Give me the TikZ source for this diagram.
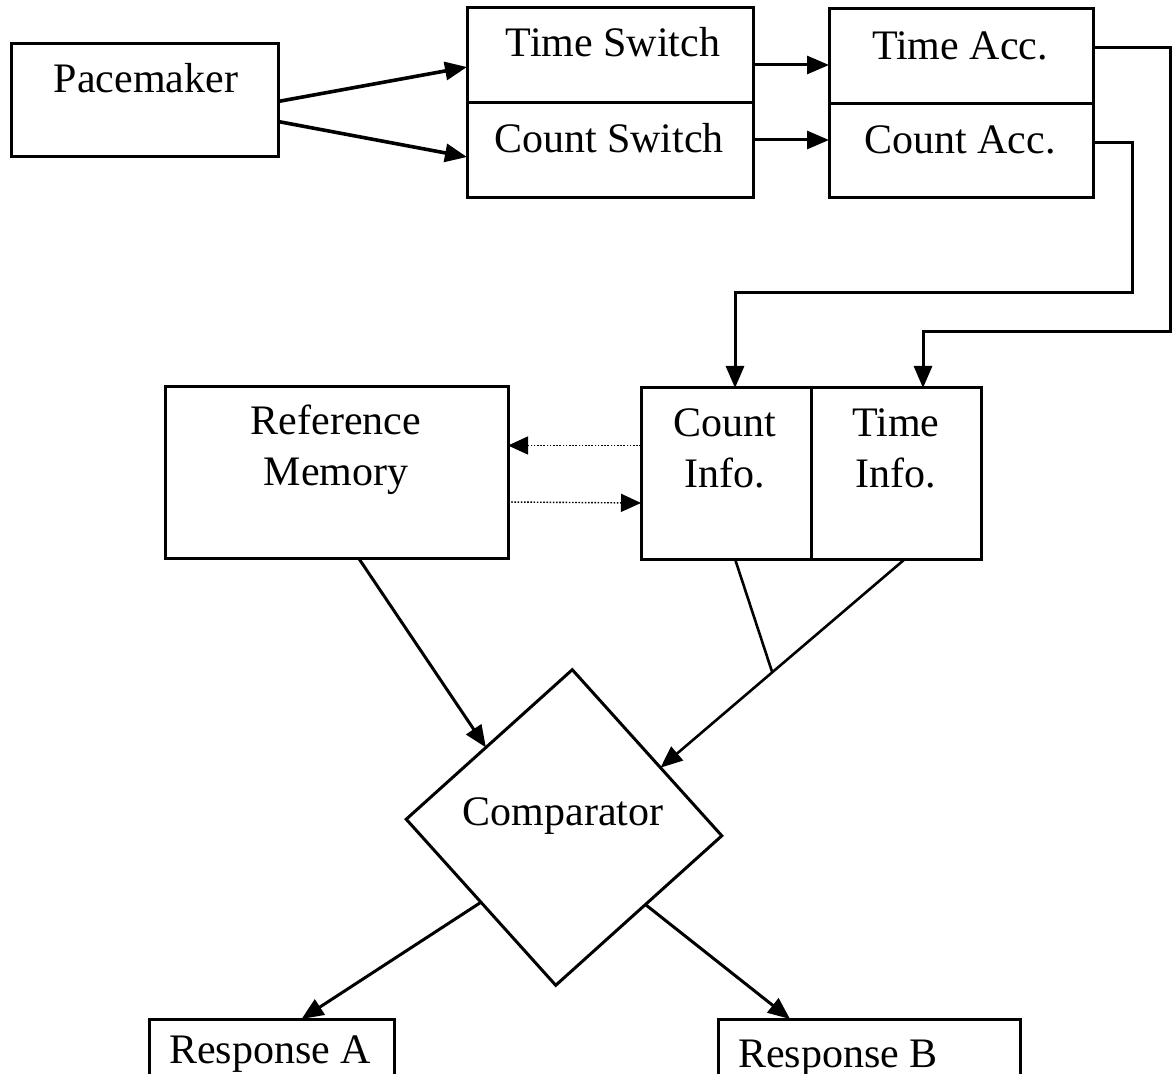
\documentclass[tikz,border=0pt]{standalone}
\usepackage{fontspec}
\setmainfont{Liberation Serif}
\usetikzlibrary{arrows.meta,calc,shapes.geometric}
% two centred lines whose baseline is the first line's
\newcommand{\twolines}[2]{\begin{tabular}[t]{@{}c@{}}#1\\#2\end{tabular}}
\tikzset{
  box/.style={draw, rectangle, line width=1.5pt, inner sep=0pt, outer sep=0pt},
  lbl/.style={font=\fontsize{21}{25}\selectfont, inner sep=0pt, anchor=base},
  arr/.style={line width=1.5pt, -{Triangle[length=11pt,width=9pt]}},
  link/.style={line width=1.3pt},
  dotarr/.style={line width=0.7pt, dash pattern=on 0.8pt off 0.8pt,
                 -{Triangle[length=10pt,width=9pt]}},
}
\begin{document}
\begin{tikzpicture}[x=0.5pt,y=-0.5pt]
\clip (0,0) rectangle (1176,1074);
\fill[white] (0,0) rectangle (1176,1074);

% boxes
\node[box, minimum width=133.5pt, minimum height=56.5pt] (pace) at (144.5,100.5) {};
\node[box, minimum width=143pt, minimum height=95pt] (sw) at (610,103) {};
\node[box, minimum width=132pt, minimum height=94.5pt] (acc) at (961,103.5) {};
\node[box, minimum width=170pt, minimum height=85.5pt] (info) at (811,473.5) {};
\node[box, minimum width=171.5pt, minimum height=85.5pt] (ref) at (336.5,472.5) {};
\node[box, minimum width=122.5pt, minimum height=45.5pt] (respA) at (271.5,1064.5) {};
\node[box, minimum width=151pt, minimum height=45.5pt] (respB) at (869,1064.5) {};
\node[draw, diamond, aspect=1, inner sep=0pt, outer sep=0pt, line width=1.5pt,
      minimum width=158pt, minimum height=158pt, rotate=-3] (cmp) at (564,827.5) {};

% dividers of the split boxes
\draw[line width=1.5pt] (sw.west) -- (sw.east);
\draw[line width=1.5pt] (acc.west) -- (acc.east);
\draw[line width=1.5pt] (info.north) -- (info.south);

% labels
\node[lbl] (tpace) at (146,93) {Pacemaker};
\node[lbl] (tsw) at (613,57) {Time Switch};
\node[lbl] (csw) at (609,153) {Count Switch};
\node[lbl] (tacc) at (960,60) {Time Acc.};
\node[lbl] (cacc) at (960,154) {Count Acc.};
\node[lbl] (cinfo) at (725,437) {\twolines{Count}{Info.}};
\node[lbl] (tinfotxt) at (896,437) {\twolines{Time}{Info.}};
\node[lbl] (reftxt) at (336,435) {\twolines{Reference}{Memory}};
\node[lbl] (cmptxt) at (563,825) {Comparator};
\node[lbl] (ratxt) at (270,1063) {Response A};
\node[lbl] (rbtxt) at (838,1067) {Response B};

% pacemaker to the switches
\draw[arr, line width=1.8pt] ($(pace.east)+(0,1)$) -- ($(sw.west)+(0,-36)$);
\draw[arr, line width=1.8pt] ($(pace.east)+(0,21)$) -- ($(sw.west)+(0,54)$);

% switches to accumulators
\draw[arr] ($(sw.east)+(0,-38)$) -- ($(acc.west)+(0,-38.5)$);
\draw[arr] ($(sw.east)+(0,37)$) -- ($(acc.west)+(0,36.5)$);

% accumulators to the info store
\coordinate (tbend) at (1170,332);
\coordinate (cbend) at (1132,293);
\draw[arr] ($(acc.east)+(0,-55.5)$) -| (tbend) -| ($(info.north)+(112,0)$);
\draw[arr] ($(acc.east)+(0,39.5)$) -| (cbend) -| ($(info.north)+(-76,0)$);

% exchange with reference memory
\draw[dotarr] ($(info.west)+(0,-28)$) -- ($(ref.east)+(0,-27)$);
\draw[dotarr] ($(ref.east)+(0,29.5)$) -- ($(info.west)+(0,29.5)$);

% inputs of the comparator
\coordinate (refin) at ($(cmp.north)!0.52!(cmp.west)$);
\coordinate (timein) at ($(cmp.north)!0.59!(cmp.east)$);
\coordinate (tinfo) at ($(info.south)+(94,0)$);
\draw[arr] ($(ref.south)+(22,0)$) -- (refin);
\draw[arr, line width=1.3pt] (tinfo) -- (timein);
\coordinate (join) at ($(tinfo)!0.543!(timein)$);
\draw[link] ($(info.south)+(-76,0)$) -- (join);

% responses
\draw[arr] ($(cmp.west)!0.5!(cmp.south)$) -- ($(respA.north)+(30,0)$);
\draw[arr] ($(cmp.east)!0.46!(cmp.south)$) -- ($(respB.north)+(-79,0)$);
\end{tikzpicture}
\end{document}
